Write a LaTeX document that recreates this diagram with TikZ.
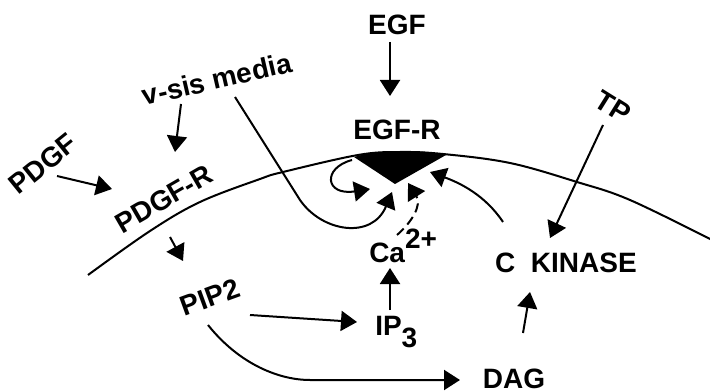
\documentclass[tikz,border=0pt]{standalone}
\usepackage{fontspec}
\setmainfont{Liberation Sans}
\usetikzlibrary{arrows.meta}
\begin{document}
\begin{tikzpicture}[x=0.75pt,y=-0.75pt,
  lbl/.style={font=\fontsize{21}{25}\selectfont\bfseries, inner sep=0pt},
  arr/.style={-{Triangle[width=15pt,length=12pt]}, line width=1.5pt},
  ln/.style={line width=1.5pt}]
\useasboundingbox (0,0) rectangle (710,392);
% membrane
\draw[ln] plot[smooth, tension=0.6] coordinates {(88,275) (150,231) (200,202) (260,179) (283,172) (358,155) (400,152) (443,154) (510,163) (577,182) (630,200) (712,240)};
% receptor
\fill (354,157) .. controls (375,150) and (420,149) .. (446,155) -- (395,184) -- cycle;
% labels
\node[lbl] (egf) at (397,25) {EGF};
\node[lbl] (egfr) at (397,130) {EGF-R};
\node[lbl, rotate=-32] (tp) at (613,107) {TP};
\node[lbl] (ckin) at (566,263) {C\ \ KINASE};
\node[lbl] (dag) at (514,379) {DAG};
\node[lbl, anchor=base west] (ip3) at (375,335) {IP\raisebox{-9pt}{3}};
\node[lbl, anchor=base west] (ca) at (369,262) {Ca\raisebox{10pt}{2+}};
\node[lbl, rotate=20] (pip2) at (210,297) {PIP2};
\node[lbl, rotate=30] (pdgfr) at (164,199) {PDGF-R};
\node[lbl, rotate=39] (pdgf) at (43,164) {PDGF};
\node[lbl, rotate=13] (vsis) at (217,79) {v-sis media};
% connector ends
\coordinate (egfA) at (390,42);   \coordinate (egfB) at (390,96);
\coordinate (vsA) at (181,104);   \coordinate (vsB) at (175,152);
\coordinate (pdA) at (57,176);    \coordinate (pdB) at (112,189);
\coordinate (prA) at (170,237);   \coordinate (prB) at (183,261);
\coordinate (piA) at (250,315);   \coordinate (piB) at (357,322);
\coordinate (pdgA) at (208,325);  \coordinate (pdgM) at (310,380); \coordinate (pdgB) at (460,380);
\coordinate (ipA) at (390,310);   \coordinate (ipB) at (390,268);
\coordinate (dgA) at (523,333);   \coordinate (dgB) at (530,292);
\coordinate (tpA) at (603,125);   \coordinate (tpB) at (550,238);
\coordinate (ckA) at (503,222);   \coordinate (ckB) at (430,172);
\coordinate (caA) at (397,235);   \coordinate (caB) at (408,183);
\coordinate (vmA) at (235,97);    \coordinate (vmM) at (300,200); \coordinate (vmB) at (392,192);
\coordinate (slA) at (352,160);   \coordinate (slB) at (370,189);
% connectors
\draw[arr] (egfA) -- (egfB);
\draw[arr] (vsA) -- (vsB);
\draw[arr] (pdA) -- (pdB);
\draw[arr] (prA) -- (prB);
\draw[arr] (piA) -- (piB);
\draw[arr] (pdgA) .. controls (240,365) and (280,380) .. (pdgM) -- (pdgB);
\draw[arr] (ipA) -- (ipB);
\draw[arr] (dgA) -- (dgB);
\draw[arr] (tpA) -- (tpB);
\draw[arr] (ckA) .. controls (485,195) and (460,183) .. (ckB);
\draw[arr, dashed, dash pattern=on 7pt off 4pt] (caA) .. controls (412,222) and (422,205) .. (caB);
\draw[arr] (vmA) -- (vmM) .. controls (322,232) and (372,240) .. (vmB);
\draw[arr] (slA) .. controls (322,168) and (325,196) .. (slB);
\end{tikzpicture}
\end{document}
